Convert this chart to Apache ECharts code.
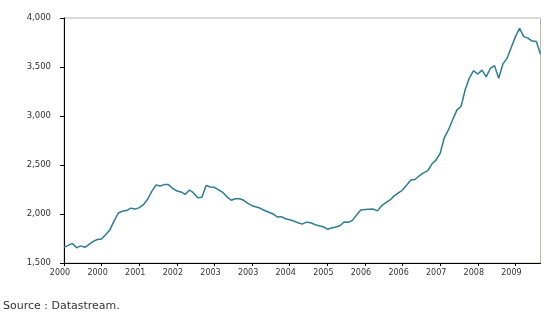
<!DOCTYPE html>
<html>
<head>
<meta charset="utf-8">
<script src="https://cdn.jsdelivr.net/npm/echarts@6/dist/echarts.min.js"></script>
<style>
html,body{margin:0;padding:0;background:#fff;}
#chart{width:552px;height:320px;}
</style>
</head>
<body>
<div id="chart"></div>
<script>
// Monthly index values, Jan 2000 – Jul 2009
var values = [
  1660, 1680, 1700, 1655, 1675, 1660, 1690, 1720, 1740, 1745,
  1790, 1840, 1930, 2010, 2030, 2035, 2060, 2050, 2065, 2095,
  2150, 2230, 2295, 2285, 2300, 2300, 2260, 2235, 2225, 2200,
  2245, 2215, 2165, 2170, 2290, 2275, 2272, 2245, 2220, 2175,
  2140, 2155, 2155, 2140, 2108, 2085, 2072, 2058, 2036, 2018,
  2002, 1970, 1973, 1952, 1942, 1928, 1910, 1897, 1917, 1910,
  1893, 1879, 1870, 1845, 1858, 1868, 1880, 1918, 1915, 1935,
  1990, 2040, 2045, 2048, 2050, 2032, 2085, 2115, 2143, 2185,
  2215, 2245, 2295, 2347, 2352, 2390, 2420, 2440, 2510, 2550,
  2620, 2780, 2860, 2965, 3060, 3100, 3270, 3390, 3462, 3428,
  3468, 3400, 3485, 3514, 3385, 3530, 3590, 3700, 3810, 3895,
  3810, 3795, 3765, 3760, 3630
];
var startYear = 2000;
var months = [];
for (var i = 0; i < values.length; i++) {
  var y = startYear + Math.floor(i / 12);
  var m = (i % 12) + 1;
  months.push(y + '-' + (m < 10 ? '0' + m : m));
}
var yTicks = [1500, 2000, 2500, 3000, 3500, 4000];
var sourceText = 'Source : Datastream.';

var chart = echarts.init(document.getElementById('chart'), null, {renderer: 'canvas'});
chart.setOption({
  animation: false,
  backgroundColor: '#ffffff',
  grid: {
    left: 64, right: 11.5, top: 18, bottom: 57,
    show: true, borderColor: '#bdb6ab', borderWidth: 1, backgroundColor: 'transparent'
  },
  xAxis: {
    type: 'category',
    data: months,
    boundaryGap: false,
    axisLine: {show: true, lineStyle: {color: '#000', width: 1}},
    axisTick: {show: true, interval: 8, length: 3, lineStyle: {color: '#000'}},
    axisLabel: {
      interval: 8,
      margin: 6,
      padding: [0, 8, 0, 0],
      color: '#333',
      fontSize: 8,
      fontFamily: 'DejaVu Sans',
      formatter: function (v) { return v.slice(0, 4); }
    },
    splitLine: {show: false}
  },
  yAxis: {
    type: 'value',
    min: yTicks[0],
    max: yTicks[yTicks.length - 1],
    interval: 500,
    axisLine: {show: true, lineStyle: {color: '#000', width: 1}},
    axisTick: {show: true, length: 4, lineStyle: {color: '#000'}},
    axisLabel: {
      margin: 13,
      color: '#333',
      fontSize: 8.5,
      fontFamily: 'DejaVu Sans',
      formatter: function (v) { return v.toLocaleString('en-US'); }
    },
    splitLine: {show: false}
  },
  series: [{
    type: 'line',
    data: values,
    symbol: 'none',
    smooth: false,
    lineStyle: {color: '#2c7c98', width: 1.5}
  }],
  graphic: [{
    type: 'text',
    left: 3,
    top: 301,
    style: {
      text: sourceText,
      fill: '#333',
      fontSize: 11,
      fontFamily: 'DejaVu Sans'
    }
  }]
});
</script>
</body>
</html>
